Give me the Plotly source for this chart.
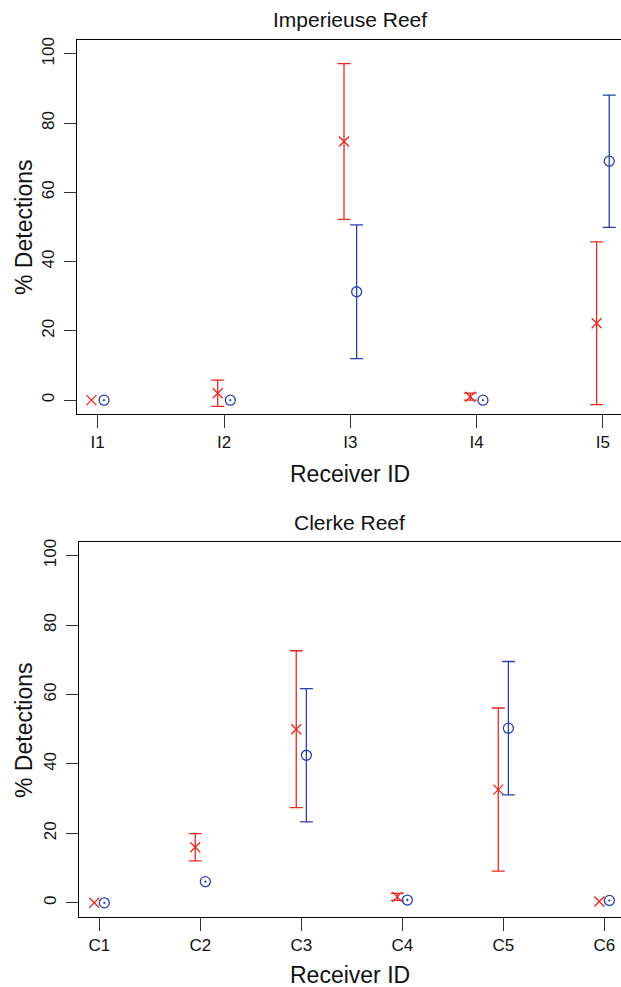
import plotly.graph_objects as go

# ---------------- data ----------------
imp_ids = ["I1", "I2", "I3", "I4", "I5"]
imp_red = [0.0, 2.0, 74.7, 1.0, 22.2]
imp_red_err = [0.0, 3.8, 22.5, 1.0, 23.5]
imp_blue = [0.0, 0.0, 31.3, 0.0, 69.0]
imp_blue_err = [0.0, 0.0, 19.3, 0.0, 19.1]

clk_ids = ["C1", "C2", "C3", "C4", "C5", "C6"]
clk_red = [0.0, 16.0, 50.0, 1.7, 32.6, 0.4]
clk_red_err = [0.0, 3.9, 22.6, 1.0, 23.5, 0.0]
clk_blue = [0.0, 6.1, 42.5, 0.8, 50.3, 0.7]
clk_blue_err = [0.0, 0.0, 19.2, 0.0, 19.2, 0.0]

y_ticks = [0, 20, 40, 60, 80, 100]

# ---------------- style ----------------
W, H = 621, 987
RED = "#e8281f"
BLUE = "#2c3fae"
FONT = "Liberation Sans, Arial, Helvetica, sans-serif"
OFF = 0.05


def px_x(p):
    return p / W


def px_y(p):
    return 1 - p / H


fig = go.Figure()


def add_series(ids, vals, errs, offset, color, symbol, symbol0, xa, ya):
    xs = [i + 1 + offset for i in range(len(ids))]
    xe = [x for x, e in zip(xs, errs) if e > 0]
    ye = [v for v, e in zip(vals, errs) if e > 0]
    ee = [e for e in errs if e > 0]
    x0 = [x for x, e in zip(xs, errs) if e == 0]
    y0 = [v for v, e in zip(vals, errs) if e == 0]
    fig.add_trace(go.Scatter(
        x=xe, y=ye, mode="markers", xaxis=xa, yaxis=ya, showlegend=False,
        marker=dict(symbol=symbol, size=10, color=color, line=dict(color=color, width=1.3)),
        error_y=dict(type="data", array=ee, visible=True, color=color, thickness=1.3, width=6.5),
    ))
    fig.add_trace(go.Scatter(
        x=x0, y=y0, mode="markers", xaxis=xa, yaxis=ya, showlegend=False,
        marker=dict(symbol=symbol0, size=10, color=color, line=dict(color=color, width=1.3)),
    ))


add_series(imp_ids, imp_red, imp_red_err, -OFF, RED, "x-thin-open", "x-thin-open", "x", "y")
add_series(imp_ids, imp_blue, imp_blue_err, OFF, BLUE, "circle-open", "circle-open-dot", "x", "y")
add_series(clk_ids, clk_red, clk_red_err, -OFF, RED, "x-thin-open", "x-thin-open", "x2", "y2")
add_series(clk_ids, clk_blue, clk_blue_err, OFF, BLUE, "circle-open", "circle-open-dot", "x2", "y2")

xcommon = dict(
    showgrid=False, zeroline=False, showline=True, linecolor="black", linewidth=1,
    mirror=True, ticks="outside", ticklen=13, tickwidth=1, tickcolor="#333",
    tickfont=dict(family=FONT, size=17, color="#111"), automargin=False,
)
ycommon = dict(
    showgrid=False, zeroline=False, showline=True, linecolor="black", linewidth=1,
    mirror=False, ticks="outside", ticklen=12, tickwidth=1, tickcolor="#333",
    tickvals=y_ticks, ticktext=[str(t) for t in y_ticks], tickangle=-90,
    ticklabelstandoff=3,
    tickfont=dict(family=FONT, size=17, color="#111"), range=[-4, 104], automargin=False,
)

fig.update_layout(
    width=W, height=H, template="none",
    paper_bgcolor="white", plot_bgcolor="white",
    margin=dict(l=0, r=0, t=0, b=0),
    showlegend=False,
    xaxis=dict(domain=[px_x(77), 1], range=[0.836, 5.143], tickvals=[1, 2, 3, 4, 5],
               ticktext=imp_ids, anchor="y", **xcommon),
    yaxis=dict(domain=[px_y(414), px_y(40)], anchor="x", **ycommon),
    xaxis2=dict(domain=[px_x(79), 1], range=[0.799, 6.165], tickvals=[1, 2, 3, 4, 5, 6],
                ticktext=clk_ids, anchor="y2", **xcommon),
    yaxis2=dict(domain=[px_y(916.7), px_y(541.7)], anchor="x2", **ycommon),
)

ann = [
    ("Imperieuse Reef", 350, 20, 21, 0),
    ("Clerke Reef", 350, 522, 21, 0),
    ("Receiver ID", 350, 474, 23, 0),
    ("Receiver ID", 350, 975, 23, 0),
    ("% Detections", 24, 227, 23, -90),
    ("% Detections", 24, 730, 23, -90),
]
for text, x, y, size, ang in ann:
    fig.add_annotation(text=text, x=px_x(x), y=px_y(y), xref="paper", yref="paper",
                       xanchor="center", yanchor="middle", showarrow=False, textangle=ang,
                       font=dict(family=FONT, size=size, color="#111"))

fig.write_html(
    "out.html",
    config={"displayModeBar": False},
    post_script="document.body.style.margin='0';document.body.style.overflow='hidden';",
)
